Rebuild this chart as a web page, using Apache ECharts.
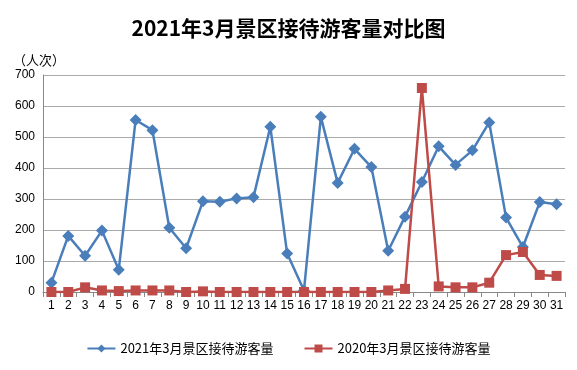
<!DOCTYPE html>
<html><head><meta charset="utf-8">
<script src="https://cdn.jsdelivr.net/npm/echarts@6/dist/echarts.min.js"></script>
<style>html,body{margin:0;padding:0;background:#fff}#c{width:577px;height:370px}</style>
</head><body><div id="c"></div>
<script>
const days = Array.from({length:31},(_,i)=>String(i+1));
const visitors2021 = [30,181,117,198,72,555,522,207,141,293,291,302,306,533,124,5,565,352,462,403,133,243,355,470,410,457,547,240,145,290,283];
const visitors2020 = [0,0,15,5,3,5,5,5,0,2,0,0,0,0,0,0,0,0,0,0,5,10,658,18,15,15,30,119,129,55,52];
const name2021 = '2021年3月景区接待游客量';
const name2020 = '2020年3月景区接待游客量';
const chart = echarts.init(document.getElementById('c'));
const font = '"Noto Sans CJK SC", "Liberation Sans", sans-serif';
const numFont = '"Liberation Sans", "DejaVu Sans", sans-serif';
chart.setOption({
  animation:false,
  title:{text:'2021年3月景区接待游客量对比图',left:'center',top:13,textStyle:{fontSize:21,fontWeight:'bold',color:'#000',fontFamily:font}},
  grid:{left:43,right:12,top:75,bottom:78},
  legend:{bottom:10,itemGap:30,itemWidth:28,itemHeight:10,textStyle:{fontSize:13,color:'#000',fontFamily:font},data:[name2021,name2020]},
  xAxis:{type:'category',data:days,boundaryGap:true,
    axisLine:{lineStyle:{color:'#888'}},axisTick:{show:true,interval:0,lineStyle:{color:'#888'}},
    axisLabel:{interval:0,color:'#000',fontSize:12,fontFamily:numFont}},
  yAxis:{type:'value',min:0,max:700,interval:100,name:'（人次）',nameLocation:'end',nameGap:8,
    nameTextStyle:{color:'#000',fontSize:13,fontFamily:font,align:'right',padding:[0,-22,0,0]},
    axisLine:{show:true,lineStyle:{color:'#888'}},axisTick:{show:false},
    axisLabel:{color:'#000',fontSize:12,fontFamily:numFont},
    splitLine:{lineStyle:{color:'#aaa'}}},
  series:[
    {name:name2021,type:'line',data:visitors2021,symbol:'diamond',symbolSize:12,
     lineStyle:{color:'#4a7ebb',width:2.5},itemStyle:{color:'#4a7ebb'}},
    {name:name2020,type:'line',data:visitors2020,symbol:'rect',symbolSize:10,
     lineStyle:{color:'#be4b48',width:2.5},itemStyle:{color:'#be4b48'}}
  ]
});
</script></body></html>
